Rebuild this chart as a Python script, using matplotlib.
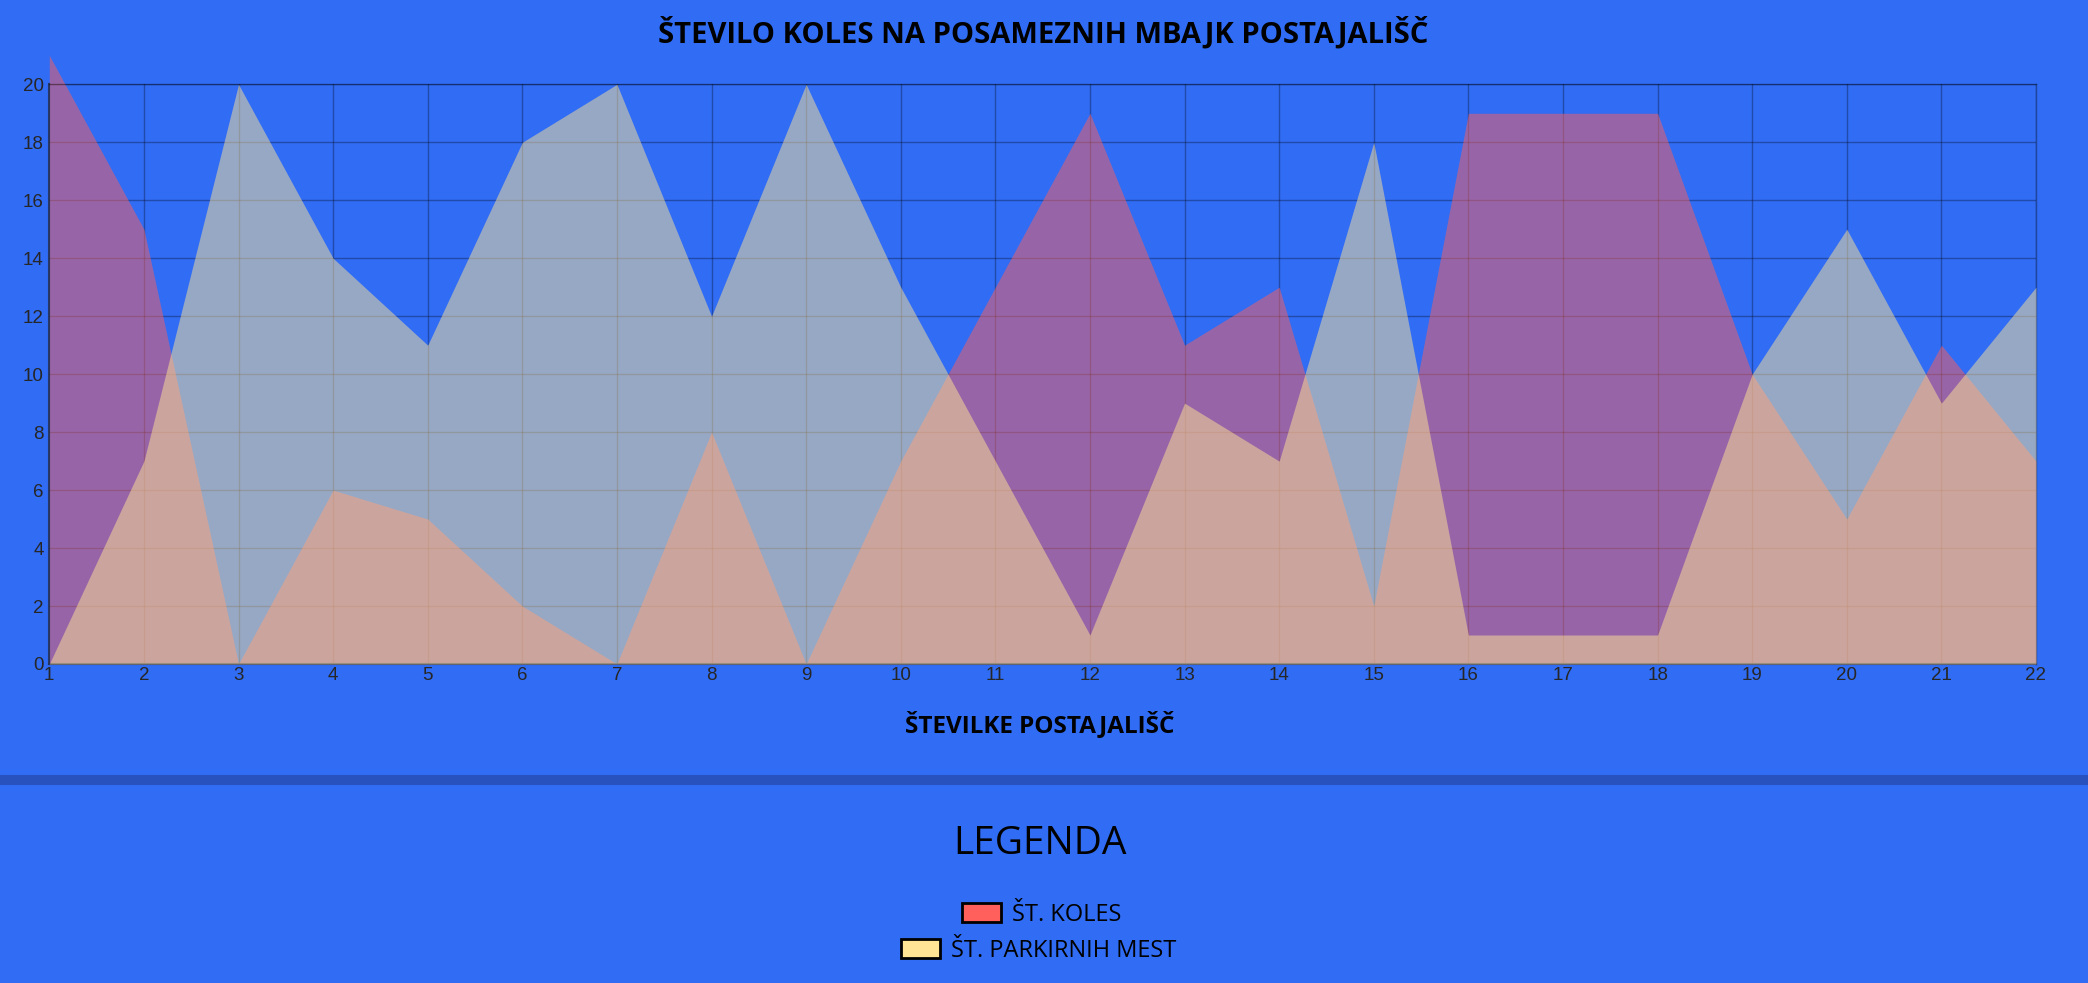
import matplotlib
matplotlib.use('Agg')
import matplotlib.pyplot as plt
from matplotlib.patches import Rectangle

# ---- data ----
stations = list(range(1, 23))
bikes = [21, 15, 0, 6, 5, 2, 0, 8, 0, 7, 13, 19, 11, 13, 2, 19, 19, 19, 10, 5, 11, 7]
parking = [0, 7, 20, 14, 11, 18, 20, 12, 20, 13, 7, 1, 9, 7, 18, 1, 1, 1, 10, 15, 9, 13]
y_ticks = list(range(0, 21, 2))

title = "ŠTEVILO KOLES NA POSAMEZNIH MBAJK POSTAJALIŠČ"
x_title = "ŠTEVILKE POSTAJALIŠČ"
legend_title = "LEGENDA"
series_labels = ["ŠT. KOLES", "ŠT. PARKIRNIH MEST"]

# ---- style ----
BG = '#306CF4'
RED = (255/255, 96/255, 92/255)
YEL = (255/255, 228/255, 150/255)
FONT = ['Open Sans', 'DejaVu Sans']
TICKFONT = ['Liberation Sans', 'DejaVu Sans']

W, H = 2088, 983
fig = plt.figure(figsize=(W/100, H/100), dpi=100, facecolor=BG)

left, right, top, bottom = 49.3, 2036, 84.3, 664
ax = fig.add_axes([left/W, 1 - bottom/H, (right-left)/W, (bottom-top)/H])
ax.set_facecolor(BG)

ax.fill_between(stations, 0, bikes, color=RED, alpha=0.5, linewidth=0,
                clip_on=False, zorder=2)
ax.fill_between(stations, 0, parking, color=YEL, alpha=0.5, linewidth=0,
                clip_on=False, zorder=3)

ax.set_xlim(1, 22)
ax.set_ylim(0, 20)
ax.set_xticks(stations)
ax.set_xticklabels([str(s) for s in stations])
ax.set_yticks(y_ticks)
ax.set_yticklabels([str(v) for v in y_ticks])
ax.grid(True, color='black', alpha=0.3, linewidth=1)
ax.set_axisbelow(True)
ax.tick_params(length=0, labelsize=13.5, labelcolor='#262626')
ax.tick_params(axis='x', pad=2)
ax.tick_params(axis='y', pad=4)
for lab in ax.get_xticklabels() + ax.get_yticklabels():
    lab.set_family(TICKFONT)
for s in ax.spines.values():
    s.set_color((0, 0, 0, 0.35))
    s.set_linewidth(1)
for s in ('left', 'bottom'):
    ax.spines[s].set_color((0.15, 0.2, 0.35, 0.9))
    ax.spines[s].set_linewidth(1.5)

# titles
fig.text(1043/W, 1 - 33/H, title, ha='center', va='center', fontsize=21,
         fontweight='bold', family=FONT, color='black')
fig.text(1040/W, 1 - 725/H, x_title, ha='center', va='center', fontsize=17.5,
         fontweight='bold', family=FONT, color='black')

# separator band
fig.patches.append(Rectangle((0, 1 - 785/H), 1, 10/H, transform=fig.transFigure,
                             facecolor='#2853BE', edgecolor='none'))

# legend
fig.text(1040/W, 1 - 844/H, legend_title, ha='center', va='center', fontsize=28,
         family=FONT, color='black')
rows = [(962, 912, RED), (901, 948, YEL)]
for (bx, cy, col), lab in zip(rows, series_labels):
    fig.patches.append(Rectangle((bx/W, 1 - (cy + 9.5)/H), 39/W, 19/H,
                                 transform=fig.transFigure, facecolor=col,
                                 edgecolor='black', linewidth=2))
    fig.text((bx + 50)/W, 1 - (cy + 3)/H, lab, ha='left', va='center', fontsize=17,
             family=FONT, color='black')

fig.savefig('out.png', dpi=100, facecolor=BG)
